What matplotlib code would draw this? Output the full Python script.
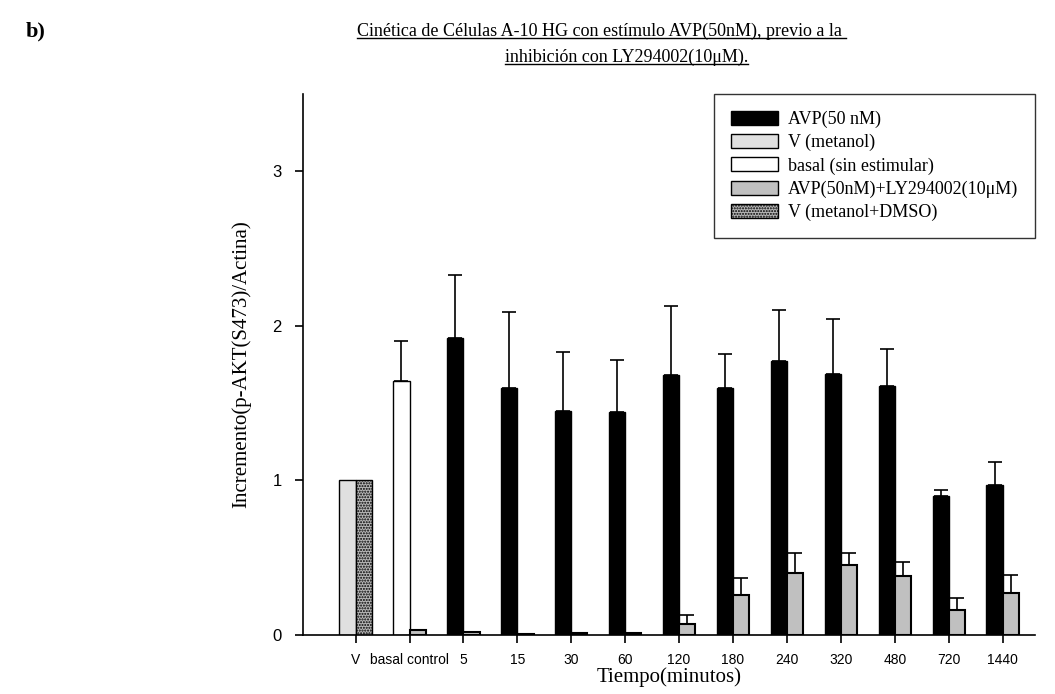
import numpy as np
import matplotlib
matplotlib.use("Agg")
import matplotlib.pyplot as plt
from matplotlib.patches import Patch
from matplotlib.lines import Line2D

# data
groups = ["V", "basal control", "5", "15", "30", "60", "120", "180", "240", "320", "480", "720", "1440"]
avp = [1.92, 1.60, 1.45, 1.44, 1.68, 1.60, 1.77, 1.69, 1.61, 0.90, 0.97]
avp_err = [0.41, 0.49, 0.38, 0.34, 0.45, 0.22, 0.33, 0.35, 0.24, 0.04, 0.15]
ly = [0.03, 0.02, 0.005, 0.01, 0.01, 0.07, 0.26, 0.40, 0.45, 0.38, 0.16, 0.27]
ly_err = [0.0, 0.0, 0.0, 0.0, 0.0, 0.06, 0.11, 0.13, 0.08, 0.09, 0.08, 0.12]
v_metanol = 1.0
v_dmso = 1.0
basal = 1.64
basal_err = 0.26

serif = "Liberation Serif"
sans = "Liberation Sans"

fig = plt.figure(figsize=(10.55, 6.94), dpi=100)
ax = fig.add_axes([0.287, 0.085, 0.694, 0.78])

w = 0.3
x = np.arange(len(groups))
ekw = dict(ecolor="black", elinewidth=1.2, capsize=5, capthick=1.2)

# V group
ax.bar(x[0] - w / 2, v_metanol, w, color="#e0e0e0", edgecolor="black", linewidth=1)
ax.bar(x[0] + w / 2, v_dmso, w, color="#b8b8b8", edgecolor="black", linewidth=1,
       hatch="......")
# basal
ax.bar(x[1] - w / 2, basal, w, color="white", edgecolor="black", linewidth=1)
ax.errorbar(x[1] - w / 2, basal, yerr=[[0], [basal_err]], fmt="none", **ekw)
# AVP
xa = x[2:] - w / 2
ax.bar(xa, avp, w, color="black", edgecolor="black", linewidth=1)
ax.errorbar(xa, avp, yerr=[np.zeros(len(avp)), avp_err], fmt="none", **ekw)
# AVP + LY
xl = x[1:] + w / 2
ax.bar(xl, ly, w, color="#c0c0c0", edgecolor="black", linewidth=1.5)
mask = np.array(ly_err) > 0
ax.errorbar(xl[mask], np.array(ly)[mask], yerr=[np.zeros(mask.sum()), np.array(ly_err)[mask]],
            fmt="none", **ekw)

ax.set_xlim(-0.98, 12.6)
ax.set_ylim(0, 3.5)
ax.set_yticks([0, 1, 2, 3])
ax.set_xticks(x)
ax.set_xticklabels(groups, fontsize=10, fontfamily=sans)
for t in ax.get_yticklabels():
    t.set_fontfamily(sans)
    t.set_fontsize(12)
ax.tick_params(direction="out", length=6, width=1.2)
ax.tick_params(axis="y", pad=9)
ax.tick_params(axis="x", pad=7)
ax.spines["top"].set_visible(False)
ax.spines["right"].set_visible(False)
ax.spines["left"].set_linewidth(1.2)
ax.spines["bottom"].set_linewidth(1.2)

ax.set_ylabel("Incremento(p-AKT(S473)/Actina)", fontsize=15, fontfamily=serif, labelpad=15)
ax.set_xlabel("Tiempo(minutos)", fontsize=15, fontfamily=serif, labelpad=0)

handles = [
    Patch(facecolor="black", edgecolor="black", label="AVP(50 nM)"),
    Patch(facecolor="#e0e0e0", edgecolor="black", label="V (metanol)"),
    Patch(facecolor="white", edgecolor="black", label="basal (sin estimular)"),
    Patch(facecolor="#c0c0c0", edgecolor="black", label="AVP(50nM)+LY294002(10\u03bcM)"),
    Patch(facecolor="#b8b8b8", edgecolor="black", hatch="......", label="V (metanol+DMSO)"),
]
leg = ax.legend(handles=handles, loc="upper right", bbox_to_anchor=(1.0, 1.0),
                borderaxespad=0, prop={"family": serif, "size": 13}, frameon=True,
                fancybox=False, edgecolor="black", handlelength=2.6, handleheight=0.8,
                borderpad=0.95, labelspacing=0.33, handletextpad=0.55)
leg.get_frame().set_linewidth(1.0)

fig.text(0.024, 0.955, "b)", fontsize=16, fontweight="bold", fontfamily=serif,
         ha="left", va="center")
t1 = fig.text(0.57, 0.955, "Cinética de Células A-10 HG con estímulo AVP(50nM), previo a la ",
              fontsize=13, fontfamily=serif, ha="center", va="center")
t2 = fig.text(0.594, 0.918, "inhibición con LY294002(10\u03bcM).",
              fontsize=13, fontfamily=serif, ha="center", va="center")

# underline the title lines
fig.canvas.draw()
r = fig.canvas.get_renderer()
for t in (t1, t2):
    bb = t.get_window_extent(r).transformed(fig.transFigure.inverted())
    fig.add_artist(Line2D([bb.x0, bb.x1], [bb.y0 + 0.002, bb.y0 + 0.002],
                          transform=fig.transFigure, color="black", linewidth=1))

fig.savefig("out.png", dpi=100)
